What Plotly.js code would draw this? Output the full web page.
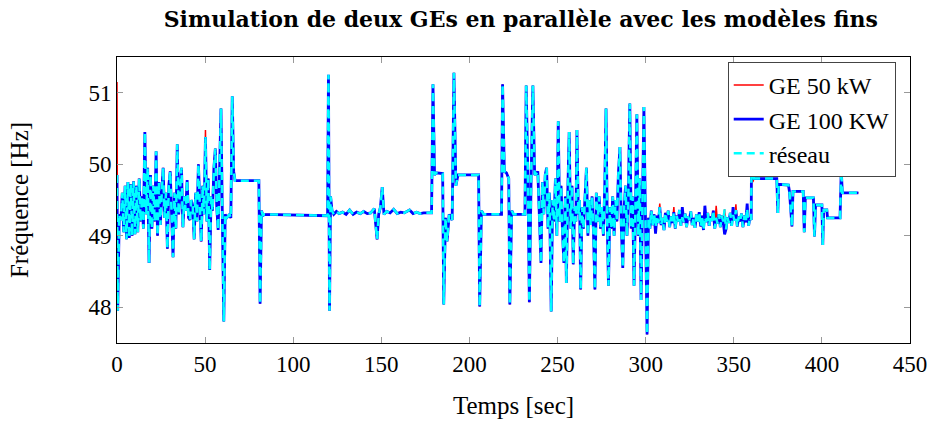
<!DOCTYPE html>
<html>
<head>
<meta charset="utf-8">
<script src="https://cdn.plot.ly/plotly-3.0.1.min.js"></script>
<style>html,body{margin:0;padding:0;background:#fff;}#chart{width:935px;height:427px;}</style>
</head>
<body>
<div id="chart"></div>
<script>
// Time axis (s) and grid frequency (Hz)
const time = [
0,0.4,1.3,2.2,3.0,3.8,4.6,5.4,6.2,7.0,7.8,8.6,9.4,10.2,11.0,11.8,12.6,13.4,14.2,15.0,15.8,16.6,17.4,18.2,19.0,19.8,20.6,21.4,22.2,23.0,23.8,24.6,25.4,26.2,27.0,27.8,28.6,29.4,30.2,31.0,31.8,32.6,33.4,34.2,35.0,35.8,36.6,37.4,38.2,39.0,39.8,40.6,41.4,42.2,43.0,43.8,44.6,45.4,46.2,47.0,47.8,48.6,49.4,50.2,51.0,51.8,52.6,53.4,54.2,55.0,55.8,56.6,57.4,58.2,59.0,59.8,60.6,61.4,62.2,63.0,63.8,64.6,65.4,66.2,67.0,
80.5,81.2,82.0,82.8,83.5,119.5,120.0,120.6,121.2,122.0,123.0,124.5,126,128,130,132,134,136,138,140,142,144,146,147.6,148.5,149.5,150.5,151.5,153,155,157,159,161,163,166,168,170,172,174,178.5,179.3,180.2,181,184.8,185.4,186.4,187.3,188.5,190.2,191.2,192.3,193.5,205.2,205.8,206.8,208,218.2,218.8,219.8,221,222.3,222.9,224,225,231.5,232.2,233.2,234,235,236,237,238,
238.8,239.6,240.6,241.4,242.2,243.0,243.8,244.6,245.4,246.4,247.2,248.0,248.8,249.6,250.4,251.2,252.0,252.8,253.6,254.4,255.0,255.8,256.6,257.4,258.2,258.9,259.7,260.4,261.0,261.8,262.5,263.1,263.9,264.7,265.5,266.4,267.2,268.0,268.8,269.6,270.4,271.2,272.0,272.8,273.6,274.4,275.2,276.0,276.8,277.5,278.2,278.9,279.7,280.5,281.3,282.1,282.9,283.7,284.5,285.4,286.2,287.0,287.8,288.6,289.4,290.2,291.0,291.8,292.6,293.4,294.2,295.0,295.8,296.6,297.4,298.2,299.0,299.8,300.8,301.6,
302.4,303.2,304.0,304.8,305.6,306.4,307.2,308.0,308.8,309.6,310.4,311.2,312.0,312.8,313.6,314.4,315.2,316.0,316.8,317.6,318.4,319.2,320.0,320.8,321.6,322.4,323.2,324.0,324.8,325.6,326.4,327.2,328.0,328.8,329.6,330.4,331.2,332.0,332.8,333.6,334.4,335.2,336.0,336.8,337.6,338.4,339.2,340.0,340.8,341.6,342.4,343.2,344.0,344.8,345.6,346.4,347.2,348.0,348.8,349.6,350.4,351.2,352.0,352.8,353.6,354.4,355.2,356.0,356.8,357.6,358.4,359.2,359.9,
360.3,360.8,361.5,374.4,375.0,375.5,381.0,381.6,383.0,383.6,389.4,390.0,390.6,395.2,395.8,396.4,400.0,400.5,401.0,402.8,403.2,410.3,411.0,411.6,420.7
];
const reseau = [
49.85,47.95,49.30,49.22,49.60,49.05,49.70,48.95,49.75,48.97,49.72,49.00,49.76,49.02,49.70,49.05,49.80,49.20,49.55,49.10,50.45,49.30,49.95,48.62,49.85,49.10,49.70,49.20,50.18,49.00,49.75,49.15,49.60,49.95,49.25,49.60,48.82,49.70,49.90,49.20,48.70,49.60,49.10,50.28,49.30,49.65,49.95,49.12,49.55,49.35,49.78,49.25,49.22,49.50,49.40,48.95,49.60,49.20,50.00,49.45,48.92,49.70,49.30,50.38,49.20,49.80,48.52,49.55,49.35,49.95,50.22,49.40,49.08,49.90,50.78,49.25,47.80,49.30,49.25,49.27,49.30,49.25,50.95,49.90,49.77,
49.77,48.05,49.35,49.28,49.30,49.28,51.25,47.95,49.55,49.35,49.30,49.34,49.31,49.33,49.30,49.36,49.30,49.33,49.31,49.34,49.31,49.32,49.38,48.95,49.30,49.40,49.68,49.30,49.34,49.32,49.37,49.31,49.33,49.32,49.36,49.31,49.33,49.31,49.32,49.32,51.12,49.85,49.88,49.87,48.04,49.25,48.92,49.30,49.22,51.28,49.70,49.85,49.85,48.01,49.35,49.30,49.30,51.12,49.90,49.88,49.80,48.04,49.35,49.30,49.30,51.10,49.80,48.07,49.80,51.10,49.85,49.87,
49.90,49.20,48.62,49.75,49.30,49.85,49.95,49.10,49.60,47.94,49.50,49.20,49.80,49.00,50.60,49.20,49.70,49.05,48.62,49.55,48.34,49.60,50.45,49.10,49.70,48.60,49.40,49.20,50.48,49.30,49.50,48.25,49.40,49.10,49.60,49.95,49.00,49.50,49.15,49.55,49.05,48.25,49.60,49.20,49.55,49.10,49.40,49.00,49.70,50.78,49.20,48.30,49.40,49.10,49.55,49.00,49.50,49.20,49.85,50.24,49.10,48.55,49.40,49.70,49.00,49.60,50.85,49.10,49.55,48.30,49.40,50.70,49.00,49.80,48.10,49.30,50.80,49.40,47.62,49.25,
49.10,49.35,49.15,49.30,49.12,49.28,49.18,49.40,49.15,49.25,49.08,49.32,49.20,49.35,49.12,49.27,49.18,49.33,49.10,49.28,49.20,49.36,49.14,49.26,49.19,49.31,49.12,49.27,49.22,49.34,49.15,49.25,49.11,49.30,49.20,49.33,49.13,49.28,49.08,49.26,49.19,49.32,49.14,49.27,49.21,49.35,49.10,49.25,49.17,49.30,49.12,49.28,49.20,49.37,49.09,49.26,49.18,49.32,49.14,49.29,49.21,49.36,49.13,49.27,49.20,49.31,49.12,49.28,49.19,49.38,49.14,49.26,49.22,
51.42,49.88,49.80,49.80,49.32,49.72,49.71,49.62,49.13,49.62,49.62,49.05,49.53,49.53,48.99,49.43,49.43,48.87,49.36,49.36,49.25,49.25,49.92,49.60,49.60
];
// Points where the generator curves differ visibly from the grid curve
const ge50DiffTime = [0, 50.2, 308.0, 316.0, 340.0, 351.2, 360.8];
const ge50DiffVal  = [51.15, 50.48, 49.45, 49.40, 49.42, 49.44, 49.75];
const ge100DiffTime = [305.6, 320.8, 333.6, 344.8, 349.6, 357.6];
const ge100DiffVal  = [49.03, 49.40, 49.42, 49.02, 49.40, 49.45];

function withDiffs(base, dt, dv) {
  const out = base.slice();
  dt.forEach((t, k) => { const i = time.indexOf(t); if (i >= 0) out[i] = dv[k]; });
  return out;
}
const ge50 = withDiffs(reseau, ge50DiffTime, ge50DiffVal);
const ge100 = withDiffs(reseau, ge100DiffTime, ge100DiffVal);

const seriesNames = ['GE 50 kW', 'GE 100 KW', 'réseau'];
const xTicks = [0,50,100,150,200,250,300,350,400,450];
const yTicks = [48,49,50,51];

const FONT = 'Liberation Serif, Times New Roman, serif';
const traces = [
  {x: time, y: ge50, name: seriesNames[0], mode: 'lines', line: {color: '#ff0000', width: 1.5}},
  {x: time, y: ge100, name: seriesNames[1], mode: 'lines', line: {color: '#0000ff', width: 2.8}},
  {x: time, y: reseau, name: seriesNames[2], mode: 'lines', line: {color: '#00ffff', width: 2.5, dash: '8px,5px'}}
];
const axisCommon = {
  showgrid: false, zeroline: false, showline: true, linecolor: '#000', linewidth: 1,
  mirror: 'allticks', ticks: 'inside', ticklen: 6, tickcolor: '#999', tickwidth: 1,
  tickfont: {family: FONT, size: 23, color: '#000'}
};
const layout = {
  width: 935, height: 427,
  margin: {l: 117, r: 25, t: 57, b: 84},
  paper_bgcolor: '#fff', plot_bgcolor: '#fff',
  title: {text: '<b>Simulation de deux GEs en parallèle avec les modèles fins</b>',
          font: {family: 'DejaVu Serif, serif', size: 22, color: '#000'},
          x: 0.557, xanchor: 'center', y: 0.955, yanchor: 'middle'},
  xaxis: Object.assign({}, axisCommon, {range: [0, 450], tickvals: xTicks, ticktext: xTicks.map(String),
          title: {text: 'Temps [sec]', font: {family: FONT, size: 25, color: '#000'}, standoff: 20}}),
  yaxis: Object.assign({}, axisCommon, {range: [47.5, 51.5], tickvals: yTicks, ticktext: yTicks.map(String),
          title: {text: 'Fréquence [Hz]', font: {family: FONT, size: 25, color: '#000'}, standoff: 52}}),
  showlegend: true,
  legend: {x: 0.982, y: 0.983, xanchor: 'right', yanchor: 'top',
           bgcolor: '#fff', bordercolor: '#444', borderwidth: 1,
           font: {family: FONT, size: 24, color: '#000'}, tracegroupgap: 0}
};
Plotly.newPlot('chart', traces, layout, {staticPlot: true, displayModeBar: false});
</script>
</body>
</html>
